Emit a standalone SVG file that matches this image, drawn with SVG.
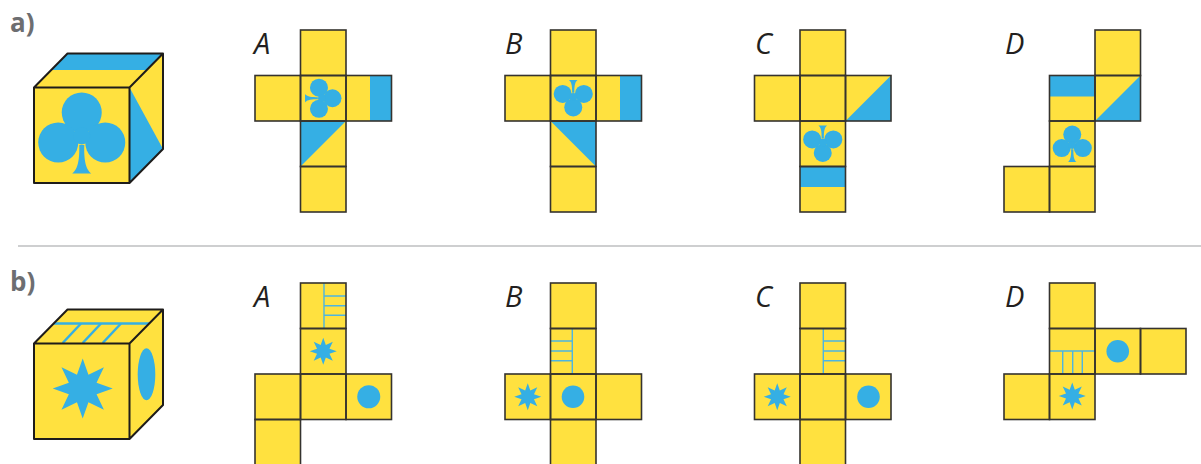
<svg xmlns="http://www.w3.org/2000/svg" xmlns:xlink="http://www.w3.org/1999/xlink" width="1201" height="464" viewBox="0 0 1201 464">
  <style>
    .cf { fill: #FFE13F; stroke: none; }
    .cl { fill: none; stroke: #35332f; stroke-width: 1.6; }
    .blue { fill: #35AFE4; stroke: none; }
    .lad { fill: none; stroke: #4cb5e2; stroke-width: 1.4; }
    .edge { fill: none; stroke: #1e1c1a; stroke-width: 2; stroke-linejoin: round; }
    .face { fill: #FFE13F; }
    .part { font-family: "Open Sans", "Liberation Sans", sans-serif; font-weight: bold; font-size: 26px; fill: #6d6e71; }
    .opt { font-family: "Open Sans", "Liberation Sans", sans-serif; font-style: italic; font-size: 29px; fill: #231f20; }
  </style>
  <defs>
    <!-- club symbol, centred on its bounding box -->
    <g id="club" class="blue">
      <circle cx="0" cy="-20.5" r="20"/>
      <circle cx="-23.5" cy="9.5" r="20"/>
      <circle cx="23.5" cy="9.5" r="20"/>
      <circle cx="0" cy="3" r="8.5"/>
      <path d="M-2.5,12 C-2,30 -5,37 -9.5,40.5 L9.5,40.5 C5,37 2,30 2.5,12 Z"/>
    </g>
    <!-- eight-pointed star, outer radius 30 -->
    <path id="star" class="blue" d="M0,-30 L5.74,-13.86 L21.21,-21.21 L13.86,-5.74 L30,0 L13.86,5.74 L21.21,21.21 L5.74,13.86 L0,30 L-5.74,13.86 L-21.21,21.21 L-13.86,5.74 L-30,0 L-13.86,-5.74 L-21.21,-21.21 L-5.74,-13.86 Z"/>
    <rect id="sq" width="45.5" height="45.5"/>

    <g id="cells-a-A">
      <use href="#sq" x="300.5" y="30"/>
      <use href="#sq" x="255" y="75.5"/>
      <use href="#sq" x="300.5" y="75.5"/>
      <use href="#sq" x="346" y="75.5"/>
      <use href="#sq" x="300.5" y="121"/>
      <use href="#sq" x="300.5" y="166.5"/>
    </g>
    <g id="cells-a-B">
      <use href="#sq" x="550.5" y="30"/>
      <use href="#sq" x="505" y="75.5"/>
      <use href="#sq" x="550.5" y="75.5"/>
      <use href="#sq" x="596" y="75.5"/>
      <use href="#sq" x="550.5" y="121"/>
      <use href="#sq" x="550.5" y="166.5"/>
    </g>
    <g id="cells-a-C">
      <use href="#sq" x="800" y="30"/>
      <use href="#sq" x="754.5" y="75.5"/>
      <use href="#sq" x="800" y="75.5"/>
      <use href="#sq" x="845.5" y="75.5"/>
      <use href="#sq" x="800" y="121"/>
      <use href="#sq" x="800" y="166.5"/>
    </g>
    <g id="cells-a-D">
      <use href="#sq" x="1095" y="30"/>
      <use href="#sq" x="1049.5" y="75.5"/>
      <use href="#sq" x="1095" y="75.5"/>
      <use href="#sq" x="1049.5" y="121"/>
      <use href="#sq" x="1004" y="166.5"/>
      <use href="#sq" x="1049.5" y="166.5"/>
    </g>
    <g id="cells-b-A">
      <use href="#sq" x="300.5" y="283"/>
      <use href="#sq" x="300.5" y="328.5"/>
      <use href="#sq" x="255" y="374"/>
      <use href="#sq" x="300.5" y="374"/>
      <use href="#sq" x="346" y="374"/>
      <use href="#sq" x="255" y="419.5"/>
    </g>
    <g id="cells-b-B">
      <use href="#sq" x="550.5" y="283"/>
      <use href="#sq" x="550.5" y="328.5"/>
      <use href="#sq" x="505" y="374"/>
      <use href="#sq" x="550.5" y="374"/>
      <use href="#sq" x="596" y="374"/>
      <use href="#sq" x="550.5" y="419.5"/>
    </g>
    <g id="cells-b-C">
      <use href="#sq" x="800" y="283"/>
      <use href="#sq" x="800" y="328.5"/>
      <use href="#sq" x="754.5" y="374"/>
      <use href="#sq" x="800" y="374"/>
      <use href="#sq" x="845.5" y="374"/>
      <use href="#sq" x="800" y="419.5"/>
    </g>
    <g id="cells-b-D">
      <use href="#sq" x="1049.5" y="283"/>
      <use href="#sq" x="1049.5" y="328.5"/>
      <use href="#sq" x="1095" y="328.5"/>
      <use href="#sq" x="1140.5" y="328.5"/>
      <use href="#sq" x="1004" y="374"/>
      <use href="#sq" x="1049.5" y="374"/>
    </g>
  </defs>

  <rect width="1201" height="464" fill="#ffffff"/>

  <!-- part labels and divider -->
  <text class="part" x="10" y="32">a)</text>
  <text class="part" x="10" y="291">b)</text>
  <line x1="18" y1="246" x2="1201" y2="246" stroke="#9d9fa2" stroke-width="1.2"/>

  <!-- cube a -->
  <g id="cube-a">
    <polygon class="face" points="34,87.5 67.5,53.5 163,53.5 129.5,87.5"/>
    <polygon class="blue" points="51.2,70 67.5,53.5 163,53.5 146.7,70"/>
    <polygon class="face" points="129.5,87.5 163,53.5 163,149 129.5,183"/>
    <polygon class="blue" points="129.5,87.5 163,149 129.5,183"/>
    <rect class="face" x="34" y="87.5" width="95.5" height="95.5"/>
    <use href="#club" transform="translate(81.75,133)"/>
    <path class="edge" d="M34,87.5 L67.5,53.5 L163,53.5 L163,149 L129.5,183 L34,183 Z M34,87.5 L129.5,87.5 L163,53.5 M129.5,87.5 L129.5,183"/>
  </g>

  <!-- cube b -->
  <g id="cube-b">
    <polygon class="face" points="34,343.5 67.5,309.5 163,309.5 129.5,343.5"/>
    <g fill="none" stroke="#35AFE4" stroke-width="2.5">
      <line x1="53.7" y1="323.5" x2="149.2" y2="323.5"/>
      <line x1="81" y1="323.5" x2="62.7" y2="343"/>
      <line x1="101" y1="323.5" x2="82.7" y2="343"/>
      <line x1="121" y1="323.5" x2="102.7" y2="343"/>
    </g>
    <polygon class="face" points="129.5,343.5 163,309.5 163,405 129.5,439"/>
    <ellipse class="blue" cx="146.5" cy="374.3" rx="8.8" ry="26"/>
    <rect class="face" x="34" y="343.5" width="95.5" height="95.5"/>
    <use href="#star" transform="translate(82.7,388.5)"/>
    <path class="edge" d="M34,343.5 L67.5,309.5 L163,309.5 L163,405 L129.5,439 L34,439 Z M34,343.5 L129.5,343.5 L163,309.5 M129.5,343.5 L129.5,439"/>
  </g>

  <!-- option letters -->
  <text class="opt" x="254" y="54">A</text>
  <text class="opt" x="505" y="54">B</text>
  <text class="opt" x="755" y="54">C</text>
  <text class="opt" x="1005" y="54">D</text>
  <text class="opt" x="254" y="307">A</text>
  <text class="opt" x="505" y="307">B</text>
  <text class="opt" x="755" y="307">C</text>
  <text class="opt" x="1005" y="307">D</text>

  <!-- nets, row a -->
  <g id="net-a-A">
    <use href="#cells-a-A" class="cf"/>
    <use href="#club" transform="translate(323.25,98.25) rotate(90) scale(0.45)"/>
    <rect class="blue" x="370" y="75.5" width="21.5" height="45.5"/>
    <polygon class="blue" points="300.5,121 346,121 300.5,166.5"/>
    <use href="#cells-a-A" class="cl"/>
  </g>
  <g id="net-a-B">
    <use href="#cells-a-B" class="cf"/>
    <use href="#club" transform="translate(573.25,98.25) rotate(180) scale(0.45)"/>
    <rect class="blue" x="620" y="75.5" width="21.5" height="45.5"/>
    <polygon class="blue" points="550.5,121 596,121 596,166.5"/>
    <use href="#cells-a-B" class="cl"/>
  </g>
  <g id="net-a-C">
    <use href="#cells-a-C" class="cf"/>
    <polygon class="blue" points="845.5,121 891,75.5 891,121"/>
    <use href="#club" transform="translate(822.75,143.75) rotate(180) scale(0.45)"/>
    <rect class="blue" x="800" y="166.5" width="45.5" height="20.5"/>
    <use href="#cells-a-C" class="cl"/>
  </g>
  <g id="net-a-D">
    <use href="#cells-a-D" class="cf"/>
    <rect class="blue" x="1049.5" y="75.5" width="45.5" height="21"/>
    <polygon class="blue" points="1095,121 1140.5,75.5 1140.5,121"/>
    <use href="#club" transform="translate(1072.25,143.75) scale(0.45)"/>
    <use href="#cells-a-D" class="cl"/>
  </g>

  <!-- nets, row b -->
  <g id="net-b-A">
    <use href="#cells-b-A" class="cf"/>
    <path class="lad" d="M324,283 V328.5 M324,296 H346 M324,305.7 H346 M324,315.3 H346"/>
    <use href="#star" transform="translate(323.25,351.25) scale(0.45)"/>
    <circle class="blue" cx="368.75" cy="396.75" r="11.5"/>
    <use href="#cells-b-A" class="cl"/>
  </g>
  <g id="net-b-B">
    <use href="#cells-b-B" class="cf"/>
    <path class="lad" d="M572.3,328.5 V374 M550.5,341 H572.3 M550.5,351 H572.3 M550.5,360.7 H572.3"/>
    <use href="#star" transform="translate(527.75,396.75) scale(0.45)"/>
    <circle class="blue" cx="573" cy="396.75" r="11.3"/>
    <use href="#cells-b-B" class="cl"/>
  </g>
  <g id="net-b-C">
    <use href="#cells-b-C" class="cf"/>
    <path class="lad" d="M823.3,328.5 V374 M823.3,341 H845.5 M823.3,351 H845.5 M823.3,360.7 H845.5"/>
    <use href="#star" transform="translate(777.25,396.75) scale(0.45)"/>
    <circle class="blue" cx="868.5" cy="396.75" r="11.3"/>
    <use href="#cells-b-C" class="cl"/>
  </g>
  <g id="net-b-D">
    <use href="#cells-b-D" class="cf"/>
    <path class="lad" d="M1049.5,351 H1095 M1062.7,351 V374 M1072.7,351 V374 M1082.3,351 V374"/>
    <circle class="blue" cx="1117.75" cy="351.25" r="11.3"/>
    <use href="#star" transform="translate(1072.25,396) scale(0.45)"/>
    <use href="#cells-b-D" class="cl"/>
  </g>
</svg>
